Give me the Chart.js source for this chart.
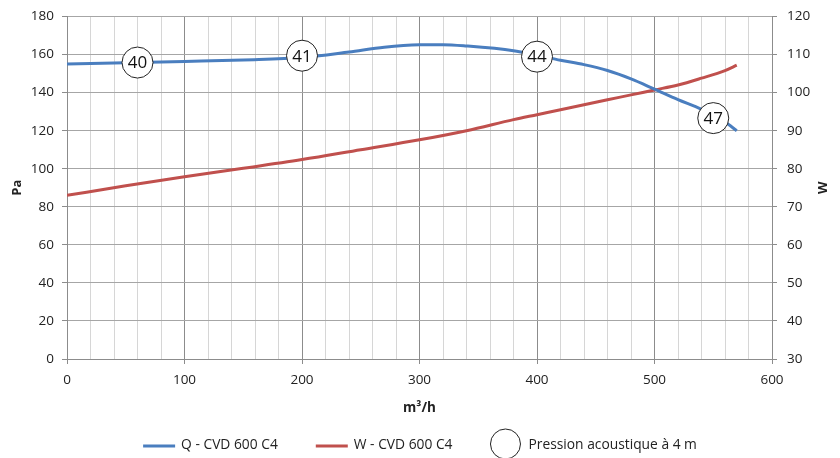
<!DOCTYPE html>
<html>
<head>
<meta charset="utf-8">
<script src="https://cdn.jsdelivr.net/npm/chart.js@4.4.1/dist/chart.umd.min.js"></script>
<style>
  html, body { margin: 0; padding: 0; background: #fff; }
  #wrap { width: 840px; height: 458px; }
</style>
</head>
<body>
<div id="wrap"><canvas id="chart"></canvas></div>
<script>
// Q curve (Pa, left axis)
const flowQ = [0, 60, 100, 150, 200, 240, 270, 300, 320, 340, 380, 400, 420, 440, 460, 480, 500, 520, 540, 560, 570];
const pressQ = [155, 155.8, 156.4, 157.2, 158.4, 161.3, 163.8, 165.1, 165.2, 164.5, 162, 159.6, 157, 154.7, 151.6, 147.2, 141.8, 136.3, 131.2, 124.5, 120];

// W curve (W, right axis)
const flowW = [0, 50, 100, 150, 200, 250, 300, 340, 380, 400, 420, 440, 460, 480, 500, 520, 540, 560, 570];
const powerW = [73, 75.5, 77.9, 80.1, 82.4, 85, 87.6, 90, 92.9, 94.2, 95.5, 96.8, 98.1, 99.4, 100.7, 102, 103.8, 105.8, 107.2];

// sound pressure bubbles
const soundFlow = [60, 200, 400, 550];
const soundPa = [155.8, 159.4, 158.9, 126.6];
const soundDb = ['40', '41', '44', '47'];

const legendNames = ['Q - CVD 600 C4', 'W - CVD 600 C4', 'Pression acoustique à 4 m'];

const BLUE = '#4a7ebf';
const RED = '#c0504d';
const FONT = "'Open Sans', 'Liberation Sans', sans-serif";

function toPoints(xs, ys) {
  return xs.map((x, i) => ({ x: x, y: ys[i] }));
}

function fixWidth(w) {
  return s => {
    s.width = w;
    s.paddingTop = 0;
    s.paddingBottom = 0;
  };
}

const bubbleText = {
  id: 'bubbleText',
  afterDatasetsDraw(chart) {
    const meta = chart.getDatasetMeta(0);
    const ctx = chart.ctx;
    ctx.save();
    ctx.font = '17px ' + FONT;
    ctx.fillStyle = '#111';
    ctx.textAlign = 'center';
    ctx.textBaseline = 'middle';
    meta.data.forEach((pt, i) => {
      ctx.fillText(soundDb[i], pt.x, pt.y + 1);
    });
    ctx.restore();
  }
};

// right axis title, turned the same way as the left one
const rightTitle = {
  id: 'rightTitle',
  afterDraw(chart) {
    const ctx = chart.ctx;
    const a = chart.chartArea;
    ctx.save();
    ctx.translate(823, (a.top + a.bottom) / 2);
    ctx.rotate(-Math.PI / 2);
    ctx.font = 'bold 13px ' + FONT;
    ctx.fillStyle = '#222';
    ctx.textAlign = 'center';
    ctx.textBaseline = 'middle';
    ctx.fillText('W', 0, 0);
    ctx.restore();
  }
};

const bottomLegend = {
  id: 'bottomLegend',
  afterDraw(chart) {
    const ctx = chart.ctx;
    const y = 445;
    ctx.save();
    ctx.font = '13.8px ' + FONT;
    ctx.textBaseline = 'middle';
    ctx.fillStyle = '#222';
    const w = legendNames.map(t => ctx.measureText(t).width);
    const lineLen = 32, gapTxt = 6, gapItem = 38, circR = 15, circGap = 8;
    const total = (lineLen + gapTxt + w[0]) + gapItem + (lineLen + gapTxt + w[1]) + gapItem + (circR * 2 + circGap + w[2]);
    let x = (chart.width - total) / 2;
    [BLUE, RED].forEach((c, i) => {
      ctx.strokeStyle = c;
      ctx.lineWidth = 3;
      ctx.beginPath();
      ctx.moveTo(x, y + 1);
      ctx.lineTo(x + lineLen, y + 1);
      ctx.stroke();
      x += lineLen + gapTxt;
      ctx.fillText(legendNames[i], x, y);
      x += w[i] + gapItem;
    });
    ctx.strokeStyle = '#222';
    ctx.lineWidth = 1;
    ctx.beginPath();
    ctx.arc(x + circR, y - 1, circR, 0, Math.PI * 2);
    ctx.stroke();
    x += circR * 2 + circGap;
    ctx.fillText(legendNames[2], x, y);
    ctx.restore();
  }
};

new Chart(document.getElementById('chart'), {
  type: 'line',
  data: {
    datasets: [
      {
        label: legendNames[2],
        type: 'scatter',
        data: toPoints(soundFlow, soundPa),
        yAxisID: 'y',
        pointRadius: 15.5,
        pointHoverRadius: 15.5,
        pointBackgroundColor: '#fff',
        pointBorderColor: '#222',
        pointBorderWidth: 1,
        showLine: false,
        order: 0
      },
      {
        label: legendNames[0],
        data: toPoints(flowQ, pressQ),
        yAxisID: 'y',
        borderColor: BLUE,
        borderWidth: 3,
        pointRadius: 0,
        cubicInterpolationMode: 'monotone',
        fill: false,
        order: 1
      },
      {
        label: legendNames[1],
        data: toPoints(flowW, powerW),
        yAxisID: 'y1',
        borderColor: RED,
        borderWidth: 3,
        pointRadius: 0,
        cubicInterpolationMode: 'monotone',
        fill: false,
        order: 2
      }
    ]
  },
  options: {
    responsive: true,
    maintainAspectRatio: false,
    animation: false,
    layout: { padding: { top: 14, bottom: 38, left: 0, right: 0 } },
    plugins: {
      legend: { display: false },
      tooltip: { enabled: false }
    },
    scales: {
      x: {
        type: 'linear',
        min: 0,
        max: 600,
        afterFit: s => { s.height = 61; },
        ticks: {
          stepSize: 20,
          autoSkip: false,
          maxRotation: 0,
          padding: 8,
          color: '#222',
          font: { family: FONT, size: 13.5 },
          callback: v => (v % 100 === 0 ? v : '')
        },
        grid: {
          color: c => (c.tick && c.tick.value % 100 === 0 ? '#8c8c8c' : '#d6d6d6'),
          tickColor: c => (c.tick && c.tick.value % 100 === 0 ? '#8c8c8c' : 'rgba(0,0,0,0)'),
          tickLength: 5
        },
        border: { color: '#8c8c8c' },
        title: {
          display: true,
          text: 'm³/h',
          color: '#222',
          font: { family: FONT, size: 13.5, weight: 'bold' },
          padding: { top: 4 }
        }
      },
      y: {
        position: 'left',
        min: 0,
        max: 180,
        afterFit: fixWidth(67),
        ticks: {
          stepSize: 20,
          padding: 8,
          color: '#222',
          font: { family: FONT, size: 13.5 }
        },
        grid: { color: '#a6a6a6', tickColor: '#8c8c8c', tickLength: 5 },
        border: { color: '#8c8c8c' },
        title: {
          display: true,
          text: 'Pa',
          color: '#222',
          font: { family: FONT, size: 13, weight: 'bold' },
          padding: { top: 9 }
        }
      },
      y1: {
        position: 'right',
        min: 30,
        max: 120,
        afterFit: fixWidth(68),
        ticks: {
          stepSize: 10,
          padding: 10,
          color: '#222',
          font: { family: FONT, size: 13.5 }
        },
        grid: { drawOnChartArea: false, tickColor: '#8c8c8c', tickLength: 5 },
        border: { color: '#8c8c8c' },
        title: { display: false }
      }
    }
  },
  plugins: [bubbleText, rightTitle, bottomLegend]
});
</script>
</body>
</html>
